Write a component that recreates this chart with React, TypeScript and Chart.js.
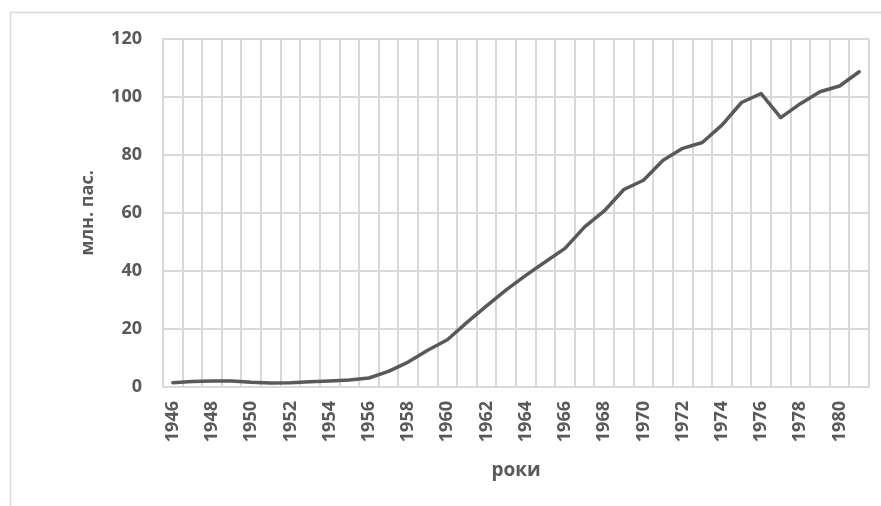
import React, { useEffect, useRef } from "react";
import { Chart, registerables } from "chart.js";

Chart.register(...registerables);

const years: string[] = [
  "1946", "1947", "1948", "1949", "1950", "1951", "1952", "1953", "1954", "1955",
  "1956", "1957", "1958", "1959", "1960", "1961", "1962", "1963", "1964", "1965",
  "1966", "1967", "1968", "1969", "1970", "1971", "1972", "1973", "1974", "1975",
  "1976", "1977", "1978", "1979", "1980", "1981",
];

const passengers: number[] = [
  1.5, 1.9, 2.1, 2.1, 1.6, 1.4, 1.5, 1.8, 2.1, 2.4,
  3.1, 5.4, 8.6, 12.7, 16.3, 22.3, 28.0, 33.5, 38.5, 43.2,
  47.8, 55.2, 60.7, 68.1, 71.3, 78.2, 82.3, 84.3, 90.3, 98.1,
  101.2, 92.9, 97.7, 101.8, 103.8, 108.7,
];

const yTicks = { min: 0, max: 120, step: 20 };
const yTitle = "млн. пас.";
const xTitle = "роки";

const TEXT = "#595959";
const GRID = "#d9d9d9";
const FONT = "'Open Sans', 'Noto Sans', sans-serif";

const framePlugin = {
  id: "frame",
  beforeDraw(chart: any) {
    const ctx = chart.ctx;
    ctx.save();
    ctx.strokeStyle = GRID;
    ctx.lineWidth = 1.5;
    ctx.strokeRect(10.5, 12.5, 1000, 1000);
    ctx.restore();
  },
};

export default function App() {
  const ref = useRef<HTMLCanvasElement | null>(null);

  useEffect(() => {
    if (!ref.current) return;
    const chart = new Chart(ref.current, {
      type: "line",
      data: {
        labels: years,
        datasets: [
          {
            data: passengers,
            borderColor: TEXT,
            borderWidth: 3.5,
            pointRadius: 0,
            tension: 0,
            fill: false,
            borderCapStyle: "round",
            borderJoinStyle: "round",
          },
        ],
      },
      options: {
        animation: false,
        responsive: false,
        devicePixelRatio: 1,
        layout: { padding: { left: 0, top: 39, right: 12, bottom: 0 } },
        plugins: {
          legend: { display: false },
          tooltip: { enabled: false },
        },
        scales: {
          x: {
            type: "category",
            offset: true,
            afterFit(scale: any) {
              scale.height = 119;
              scale.paddingLeft = 0;
              scale.paddingRight = 0;
            },
            grid: {
              offset: true,
              color: GRID,
              lineWidth: 2,
              drawTicks: false,
            },
            border: { display: true, color: GRID, width: 2 },
            ticks: {
              autoSkip: false,
              minRotation: 90,
              maxRotation: 90,
              padding: 14,
              color: TEXT,
              font: { family: FONT, size: 18, weight: "bold" },
              callback: (_v: any, i: number) => (i % 2 === 0 ? years[i] : ""),
            },
            title: {
              display: true,
              text: xTitle,
              color: TEXT,
              font: { family: FONT, size: 19, weight: "bold" },
              padding: { top: 0, bottom: 24 },
            },
          },
          y: {
            min: yTicks.min,
            max: yTicks.max,
            afterFit(scale: any) {
              scale.width = 163;
              scale.paddingTop = 0;
              scale.paddingBottom = 0;
            },
            grid: {
              color: GRID,
              lineWidth: 2,
              drawTicks: false,
            },
            border: { display: true, color: GRID, width: 2 },
            ticks: {
              stepSize: yTicks.step,
              padding: 21,
              color: TEXT,
              font: { family: FONT, size: 18, weight: "bold" },
            },
            title: {
              display: true,
              text: yTitle,
              color: TEXT,
              font: { family: FONT, size: 18, weight: "bold" },
              padding: { top: 77, bottom: 0 },
            },
          },
        },
      },
      plugins: [framePlugin],
    } as any);
    return () => chart.destroy();
  }, []);

  return (
    <div style={{ position: "fixed", left: 0, top: 0, width: 881, height: 506, background: "#fff" }}>
      <canvas ref={ref} width={881} height={506} style={{ display: "block" }} />
    </div>
  );
}
